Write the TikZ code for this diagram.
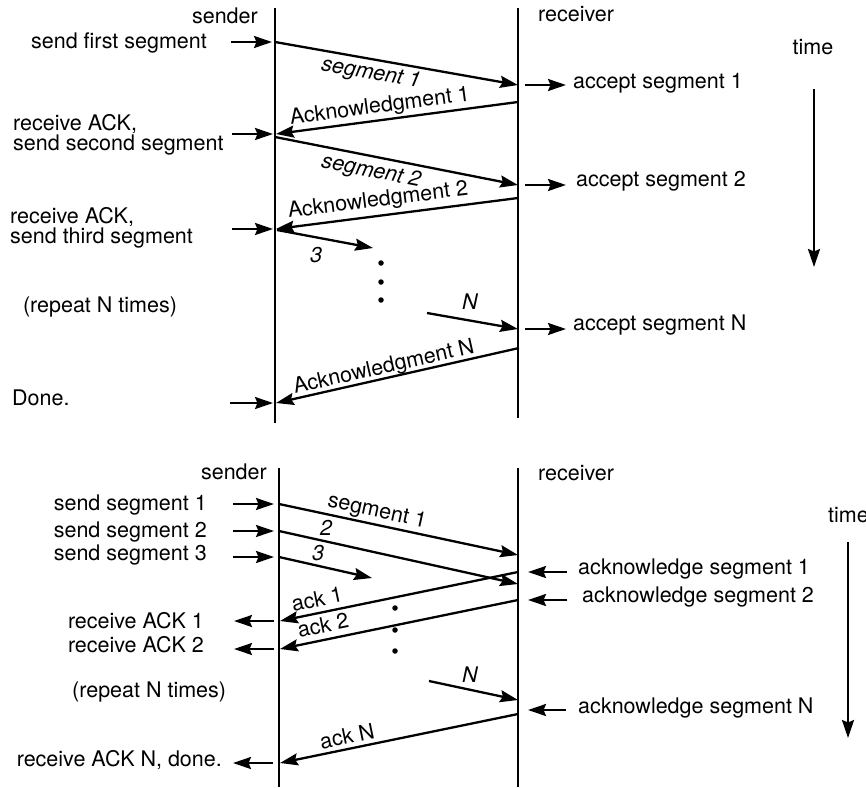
\documentclass[tikz,border=0pt]{standalone}
\usepackage{fontspec}
\setmainfont{TeX Gyre Heros}
\usetikzlibrary{arrows.meta}

\begin{document}
\begin{tikzpicture}[x=1pt,y=-1pt,
      txt/.style={font={\fontsize{21.5}{18}\selectfont},inner sep=0pt},
      lbl/.style={txt,font={\fontsize{21.5}{18}\selectfont\itshape}},
      life/.style={draw=black,line width=1.3pt},
      rlife/.style={draw=black,line width=2.5pt},
      msg/.style={-{Stealth[length=18pt,width=12pt,inset=2.5pt]},line width=2.3pt},
      dot/.style={circle,fill=black,inner sep=0pt,minimum size=5.5pt}
    ]
      \useasboundingbox (0,0) rectangle (866,787);
      % stop-and-wait
      \coordinate (sTop) at (275,8);
      \coordinate (sBot) at (275,423);
      \coordinate (rTop) at (518,8);
      \coordinate (rBot) at (518,418);
      \draw[life] (sTop) -- (sBot);
      \draw[rlife] (rTop) -- (rBot);
      \node[txt,anchor=east] (sender) at (258,16) {sender};
      \node[txt,anchor=west] (receiver) at (538,14) {receiver};
      \node[txt] (time) at (813,47) {time};
      \coordinate (tA) at (814,89);
      \coordinate (tB) at (814,267);
      \draw[msg] (tA) -- (tB);

      \coordinate (s1) at (275,42);
      \coordinate (r1) at (518,85);
      \coordinate (r1a) at (518,102);
      \coordinate (s2a) at (276,134);
      \coordinate (s2) at (275,137);
      \coordinate (r2) at (518,185);
      \coordinate (r2a) at (518,198);
      \coordinate (s3a) at (276,229);
      \coordinate (s3) at (277,230);
      \coordinate (m3) at (373,248);
      \coordinate (mN) at (427,313);
      \coordinate (rN) at (518,329);
      \coordinate (rNa) at (519,348);
      \coordinate (sNa) at (276,403);

      \draw[msg] (s1) -- (r1);
      \draw[msg] (r1a) -- (s2a);
      \draw[msg] (s2) -- (r2);
      \draw[msg] (r2a) -- (s3a);
      \draw[msg] (s3) -- (m3);
      \draw[msg] (mN) -- (rN);
      \draw[msg] (rNa) -- (sNa);

      \draw[msg] ([xshift=-44pt]s1) -- ([xshift=-3pt]s1);
      \draw[msg] ([xshift=-44pt]s2a) -- ([xshift=-3pt]s2a);
      \draw[msg] ([xshift=-44pt]s3a) -- ([xshift=-3pt]s3a);
      \draw[msg] ([xshift=-46pt]sNa) -- ([xshift=-3pt]sNa);
      \draw[msg] ([xshift=7pt]r1) -- ([xshift=48pt]r1);
      \draw[msg] ([xshift=7pt]r2) -- ([xshift=48pt]r2);
      \draw[msg] ([xshift=7pt]rN) -- ([xshift=48pt]rN);

      \node[txt,anchor=east] (first) at (207,43) {send first segment};
      \node[txt,anchor=west,align=left] (second) at (13,135) {receive ACK,\\send second segment};
      \node[txt,anchor=west,align=left] (third) at (10,228) {receive ACK,\\send third segment};
      \node[txt] (repeat1) at (100,307) {(repeat N times)};
      \node[txt,anchor=west] (done) at (12,398) {Done.};
      \node[txt,anchor=west] (acc1) at (573,83) {accept segment 1};
      \node[txt,anchor=west] (acc2) at (576,181) {accept segment 2};
      \node[txt,anchor=west] (accN) at (573,325) {accept segment N};

      \node[lbl,rotate=-10] (lseg1) at (371,74) {segment 1};
      \node[txt,rotate=7.6] (lack1) at (380,107) {Acknowledgment 1};
      \node[lbl,rotate=-11] (lseg2) at (371,172) {segment 2};
      \node[txt,rotate=7.3] (lack2) at (378,201) {Acknowledgment 2};
      \node[lbl] (l3) at (316,255) {3};
      \node[lbl] (lN) at (470,302) {N};
      \node[txt,rotate=12.8] (lackN) at (384,368) {Acknowledgment N};
      \foreach \y [count=\i] in {263,282,300}
        \node[dot] (dA\i) at (381,\y) {};

      % sliding window
      \coordinate (sTop2) at (279,468);
      \coordinate (sBot2) at (279,787);
      \coordinate (rTop2) at (518,468);
      \coordinate (rBot2) at (518,787);
      \draw[life] (sTop2) -- (sBot2);
      \draw[rlife] (rTop2) -- (rBot2);
      \node[txt,anchor=east] (sender2) at (267,472) {sender};
      \node[txt,anchor=west] (receiver2) at (538,473) {receiver};
      \node[txt,anchor=west] (time2) at (828,515) {time};
      \coordinate (tC) at (848,542);
      \coordinate (tD) at (848,738);
      \draw[msg] (tC) -- (tD);

      \coordinate (p1) at (279,504);
      \coordinate (q1) at (518,555);
      \coordinate (p2) at (279,531);
      \coordinate (q2) at (518,584);
      \coordinate (p3) at (279,557);
      \coordinate (m3b) at (372,578);
      \coordinate (q1a) at (518,572);
      \coordinate (p1a) at (280,621);
      \coordinate (q2a) at (518,600);
      \coordinate (p2a) at (280,649);
      \coordinate (mNb) at (429,681);
      \coordinate (qN) at (518,700);
      \coordinate (qNa) at (518,714);
      \coordinate (pNa) at (280,763);

      \draw[msg] (p1) -- (q1);
      \draw[msg] (p2) -- (q2);
      \draw[msg] (p3) -- (m3b);
      \draw[msg] (q1a) -- (p1a);
      \draw[msg] (q2a) -- (p2a);
      \draw[msg] (mNb) -- (qN);
      \draw[msg] (qNa) -- (pNa);

      \draw[msg] ([xshift=-46pt]p1) -- ([xshift=-5pt]p1);
      \draw[msg] ([xshift=-46pt]p2) -- ([xshift=-5pt]p2);
      \draw[msg] ([xshift=-46pt]p3) -- ([xshift=-5pt]p3);
      \draw[msg] ([xshift=-6pt]p1a) -- ([xshift=-46pt]p1a);
      \draw[msg] ([xshift=-6pt]p2a) -- ([xshift=-46pt]p2a);
      \draw[msg] ([xshift=-7pt]pNa) -- ([xshift=-47pt]pNa);
      \draw[msg] ([xshift=49pt]q1a) -- ([xshift=10pt]q1a);
      \draw[msg] ([xshift=49pt]q2a) -- ([xshift=10pt]q2a);
      \draw[msg] ([xshift=48pt,yshift=4pt]qNa) -- ([xshift=10pt,yshift=4pt]qNa);

      \node[txt,anchor=east] (send1) at (207,505) {send segment 1};
      \node[txt,anchor=east] (send2) at (207,532) {send segment 2};
      \node[txt,anchor=east] (send3) at (207,555) {send segment 3};
      \node[txt,anchor=east] (recv1) at (204,621) {receive ACK 1};
      \node[txt,anchor=east] (recv2) at (204,645) {receive ACK 2};
      \node[txt,anchor=west] (repeat2) at (72,692) {(repeat N times)};
      \node[txt,anchor=east] (recvN) at (222,760) {receive ACK N, done.};
      \node[txt,anchor=west] (ackseg1) at (578,569) {acknowledge segment 1};
      \node[txt,anchor=west] (ackseg2) at (582,597) {acknowledge segment 2};
      \node[txt,anchor=west] (acksegN) at (578,708) {acknowledge segment N};

      \node[txt,rotate=-12.5] (bseg1) at (377,512) {segment 1};
      \node[lbl] (b2) at (326,528) {2};
      \node[lbl] (b3) at (318,553) {3};
      \node[txt,rotate=11.7] (back1) at (317,599) {ack 1};
      \node[txt,rotate=11.7] (back2) at (323,625) {ack 2};
      \node[lbl] (bN) at (470,675) {N};
      \node[txt,rotate=11.7] (backN) at (347,736) {ack N};
      \foreach \y [count=\i] in {608,630,651}
        \node[dot] (dB\i) at (395,\y) {};
    \end{tikzpicture}
\end{document}
